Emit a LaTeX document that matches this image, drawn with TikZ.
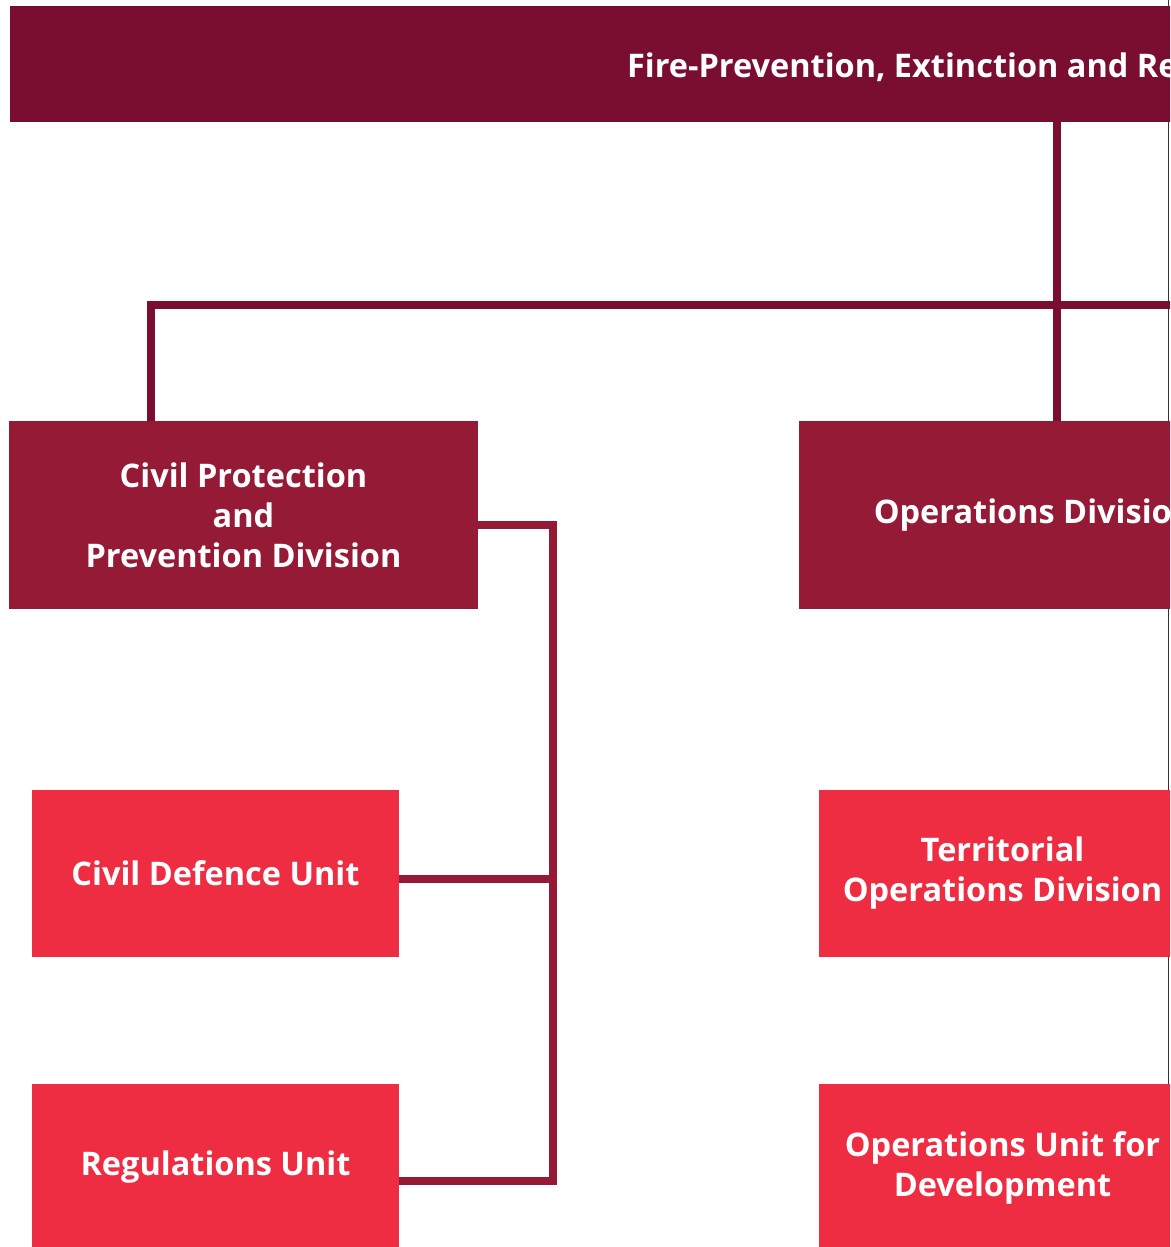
\documentclass[tikz,border=0pt]{standalone}
\usepackage{fontspec}
\setmainfont{Open Sans}
\usepackage{xcolor}
\usetikzlibrary{
  positioning,
  calc
}
\definecolor{headmaroon}{HTML}{7A0E31}
\definecolor{divmaroon}{HTML}{951A36}
\definecolor{unitred}{HTML}{EE2D42}

\begin{document}
\begin{tikzpicture}[
        x=1pt, y=-1pt,
        every node/.style={inner sep=0pt, outer sep=0pt, text=white, font=\fontsize{32.5}{40}\selectfont\bfseries, align=center},
        headbox/.style={fill=headmaroon, anchor=north west, minimum width=1300pt, minimum height=116pt},
        divbox/.style={fill=divmaroon, anchor=north west, minimum width=469pt, minimum height=188pt},
        unitbox/.style={fill=unitred, anchor=north west, minimum width=367pt, minimum height=167pt},
        trunkline/.style={draw=headmaroon, line width=8pt},
        unitline/.style={draw=divmaroon, line width=8pt, line join=miter}
    ]
        \useasboundingbox (0,0) rectangle (1170,1247);
        \clip (0,0) rectangle (1170,1247);
        % Rand der Seite
        \draw[line width=1.5pt, black!80] (1168.5,0) -- (1168.5,1247);
        % Kaestchen
        \node[headbox] (dept) at (10,6) {};
        \node[anchor=west] (depttitle) at (627,67) {Fire-Prevention, Extinction and Re};
        \node[divbox] (cpd) at (9,421) {Civil Protection\\and\\Prevention Division};
        \node[divbox] (ops) at (799,421) {Operations Division};
        \node[unitbox] (cdu) at (32,790) {Civil Defence Unit};
        \node[unitbox] (reg) at (32,1084) {Regulations Unit};
        \node[unitbox] (tod) at (819,790) {Territorial\\Operations Division};
        \node[unitbox] (oud) at (819,1084) {Operations Unit for\\Development};
        % Verbindungen oben
        \coordinate (trunk) at (1056.5,0);
        \coordinate (busR) at (1180,305);
        \draw[trunkline] (dept.south -| trunk) -- (ops.north -| trunk);
        \draw[trunkline] ([xshift=142pt]cpd.north west) |- (busR);
        % Verbindungen zu den Einheiten
        \coordinate (rail) at (553,0);
        \draw[unitline] ([yshift=-10pt]cpd.east) -| ([yshift=-13pt]reg.east -| rail) -- ([yshift=-13pt]reg.east);
        \draw[unitline] ([yshift=-5pt]cdu.east) -- ([yshift=-5pt]cdu.east -| rail);
    \end{tikzpicture}
\end{document}
